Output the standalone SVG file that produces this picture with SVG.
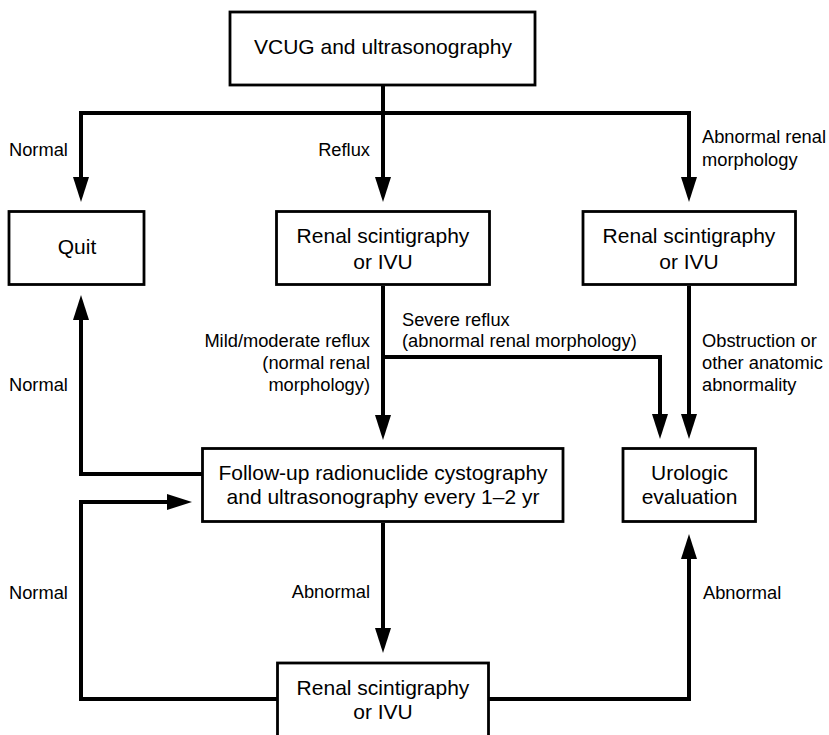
<svg xmlns="http://www.w3.org/2000/svg" width="829" height="735" viewBox="0 0 829 735">
  <style>
    .box { fill: #fff; stroke: #000; stroke-width: 2.8; }
    .btxt { font-family: "Liberation Sans", Arial, Helvetica, sans-serif; font-size: 21px; fill: #000; text-anchor: middle; }
    .lbl { font-family: "Liberation Sans", Arial, Helvetica, sans-serif; font-size: 18.3px; fill: #000; }
    .end { text-anchor: end; }
    .wire { fill: none; stroke: #000; stroke-width: 4; stroke-linejoin: miter; stroke-linecap: butt; }
  </style>
  <defs>
    <marker id="arrow" viewBox="0 0 25 16" refX="17" refY="8" markerWidth="25" markerHeight="16" markerUnits="userSpaceOnUse" orient="auto">
      <path d="M0,0 L25,8 L0,16 z" fill="#000"/>
    </marker>
  </defs>

  <rect width="829" height="735" fill="#fff"/>

  <!-- connectors -->
  <g id="connectors" class="wire">
    <path d="M383,86 V113 H81 V194" marker-end="url(#arrow)"/>
    <path d="M383,113 V194" marker-end="url(#arrow)"/>
    <path d="M383,113 H689 V194" marker-end="url(#arrow)"/>
    <path d="M383,286 V432" marker-end="url(#arrow)"/>
    <path d="M383,357 H660 V431" marker-end="url(#arrow)"/>
    <path d="M689,286 V431" marker-end="url(#arrow)"/>
    <path d="M202,474 H81 V303" marker-end="url(#arrow)"/>
    <path d="M383,523 V645" marker-end="url(#arrow)"/>
    <path d="M277,699 H81 V502 H184" marker-end="url(#arrow)"/>
    <path d="M489,699 H689 V542" marker-end="url(#arrow)"/>
  </g>

  <!-- connector labels -->
  <g id="labels" class="lbl">
    <text x="9" y="156">Normal</text>
    <text class="end" x="370" y="156">Reflux</text>
    <text x="702" y="143">Abnormal renal</text>
    <text x="702" y="166">morphology</text>
    <text x="402" y="326">Severe reflux</text>
    <text x="402" y="347">(abnormal renal morphology)</text>
    <text class="end" x="370" y="347">Mild/moderate reflux</text>
    <text class="end" x="370" y="369">(normal renal</text>
    <text class="end" x="370" y="391">morphology)</text>
    <text x="9" y="391">Normal</text>
    <text x="702" y="347">Obstruction or</text>
    <text x="702" y="369">other anatomic</text>
    <text x="702" y="391">abnormality</text>
    <text x="9" y="599">Normal</text>
    <text class="end" x="370" y="598">Abnormal</text>
    <text x="703" y="599">Abnormal</text>
  </g>

  <!-- nodes -->
  <g id="start">
    <rect class="box" x="230" y="12" width="305" height="73"/>
    <text class="btxt" x="383" y="54">VCUG and ultrasonography</text>
  </g>
  <g id="quit">
    <rect class="box" x="9" y="211.5" width="135" height="73"/>
    <text class="btxt" x="77" y="254">Quit</text>
  </g>
  <g id="renal-reflux">
    <rect class="box" x="276.5" y="211.5" width="213" height="73"/>
    <text class="btxt" x="383" y="243">Renal scintigraphy</text>
    <text class="btxt" x="383" y="269">or IVU</text>
  </g>
  <g id="renal-abnormal">
    <rect class="box" x="583" y="211.5" width="212.5" height="73"/>
    <text class="btxt" x="689" y="243">Renal scintigraphy</text>
    <text class="btxt" x="689" y="269">or IVU</text>
  </g>
  <g id="follow-up">
    <rect class="box" x="202.5" y="448.5" width="360.5" height="73"/>
    <text class="btxt" x="383" y="480">Follow-up radionuclide cystography</text>
    <text class="btxt" x="383" y="504">and ultrasonography every 1–2 yr</text>
  </g>
  <g id="urologic">
    <rect class="box" x="623" y="448.5" width="132.5" height="73"/>
    <text class="btxt" x="689.5" y="480">Urologic</text>
    <text class="btxt" x="689.5" y="504">evaluation</text>
  </g>
  <g id="renal-followup">
    <rect class="box" x="277.5" y="663" width="211" height="90"/>
    <text class="btxt" x="383" y="695">Renal scintigraphy</text>
    <text class="btxt" x="383" y="719">or IVU</text>
  </g>
</svg>
